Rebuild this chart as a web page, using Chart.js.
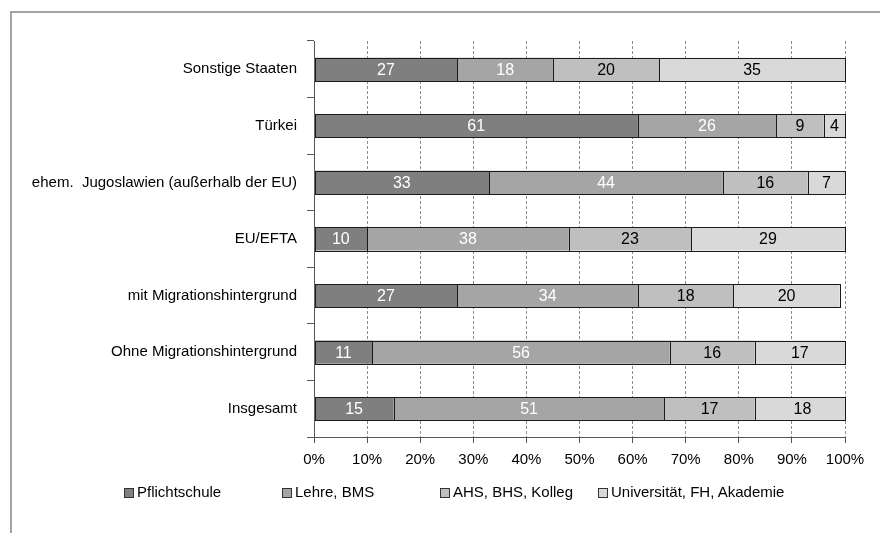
<!DOCTYPE html>
<html>
<head>
<meta charset="utf-8">
<script src="https://cdn.jsdelivr.net/npm/chart.js@4"></script>
<style>
  html, body { margin: 0; padding: 0; background: #fff; }
  #wrap { position: relative; width: 880px; height: 533px; overflow: hidden; }
  #frame { position: absolute; left: 10px; top: 11px; width: 900px; height: 600px;
           border-top: 2px solid #a3a3a3; border-left: 2px solid #a3a3a3; }
  canvas { position: absolute; left: 0; top: 0; }
  #legend { position: absolute; left: 124px; top: 482px; height: 20px;
            font: 15px "Liberation Sans", Arial, sans-serif; color: #000; white-space: nowrap; }
  #legend .item { display: inline-block; width: 158px; line-height: 20px; }
  #legend .box { display: inline-block; width: 8px; height: 8px; border: 1px solid #333;
                 margin-right: 3px; vertical-align: -1px; }
</style>
</head>
<body>
<div id="wrap">
  <div id="frame"></div>
  <canvas id="chart" width="880" height="533"></canvas>
  <div id="legend"></div>
</div>
<script>
// Schulabschluss nach Herkunft, Anteile in Prozent
const categories = [
  'Sonstige Staaten',
  'Türkei',
  'ehem.  Jugoslawien (außerhalb der EU)',
  'EU/EFTA',
  'mit Migrationshintergrund',
  'Ohne Migrationshintergrund',
  'Insgesamt'
];
const seriesNames = ['Pflichtschule', 'Lehre, BMS', 'AHS, BHS, Kolleg', 'Universität, FH, Akademie'];
const pflichtschule = [27, 61, 33, 10, 27, 11, 15];
const lehreBms      = [18, 26, 44, 38, 34, 56, 51];
const ahsBhsKolleg  = [20,  9, 16, 23, 18, 16, 17];
const universitaet  = [35,  4,  7, 29, 20, 17, 18];
const xTicks = [0, 10, 20, 30, 40, 50, 60, 70, 80, 90, 100];

const fills = ['#7f7f7f', '#a5a5a5', '#bfbfbf', '#d9d9d9'];
const labelColors = ['#ffffff', '#ffffff', '#000000', '#000000'];
const FONT = '"Liberation Sans", Arial, sans-serif';

const seriesValues = [pflichtschule, lehreBms, ahsBhsKolleg, universitaet];

const datasets = seriesValues.map((vals, i) => ({
  label: seriesNames[i],
  data: vals,
  backgroundColor: fills[i],
  borderWidth: 0,
  barPercentage: 0.41,
  categoryPercentage: 1.0
}));

// crisp outlines around each segment (kept inside the plot area), then the value centred inside it
const segmentLabels = {
  id: 'segmentLabels',
  afterDatasetsDraw(chart) {
    const ctx = chart.ctx;
    const area = chart.chartArea;
    const clampX = v => Math.min(Math.max(v, area.left), area.right);
    ctx.save();
    ctx.strokeStyle = '#1a1a1a';
    ctx.lineWidth = 1;
    chart.data.datasets.forEach((ds, di) => {
      chart.getDatasetMeta(di).data.forEach(el => {
        const { x, y, base, height } = el.getProps(['x', 'y', 'base', 'height'], true);
        const x0 = Math.round(clampX(Math.min(base, x))) + 0.5;
        const x1 = Math.round(clampX(Math.max(base, x))) + 0.5;
        const y0 = Math.round(y - height / 2) + 0.5;
        const y1 = Math.round(y + height / 2) + 0.5;
        if (x1 > x0) ctx.strokeRect(x0, y0, x1 - x0, y1 - y0);
      });
    });
    ctx.restore();

    ctx.save();
    ctx.font = '16px ' + FONT;
    ctx.textAlign = 'center';
    ctx.textBaseline = 'middle';
    chart.data.datasets.forEach((ds, di) => {
      ctx.fillStyle = labelColors[di];
      chart.getDatasetMeta(di).data.forEach((el, i) => {
        const p = el.getCenterPoint();
        ctx.fillText(String(ds.data[i]), p.x, p.y + 1);
      });
    });
    ctx.restore();
  }
};

new Chart(document.getElementById('chart'), {
  type: 'bar',
  data: { labels: categories, datasets },
  options: {
    indexAxis: 'y',
    responsive: false,
    animation: false,
    layout: { padding: { top: 41, right: 35, bottom: 0, left: 0 } },
    plugins: { legend: { display: false }, tooltip: { enabled: false } },
    scales: {
      x: {
        stacked: true,
        min: 0, max: 100,
        afterBuildTicks(scale) { scale.ticks = xTicks.map(v => ({ value: v })); },
        afterFit(scale) { scale.height = 96; },
        ticks: {
          color: '#000',
          font: { family: FONT, size: 15 },
          padding: 8,
          maxRotation: 0,
          callback: v => v + '%'
        },
        grid: {
          color: '#8c8c8c',
          lineWidth: 1,
          tickLength: 6,
          tickColor: '#555',
          tickBorderDash: []
        },
        border: { display: true, color: '#555', width: 1, dash: [3, 2] }
      },
      y: {
        stacked: true,
        afterFit(scale) { scale.width = 314; },
        ticks: {
          color: '#000',
          font: { family: FONT, size: 15 },
          padding: 10
        },
        grid: {
          offset: true,
          drawOnChartArea: false,
          tickLength: 7,
          tickColor: '#555'
        },
        border: { display: true, color: '#555', width: 1 }
      }
    }
  },
  plugins: [segmentLabels]
});

// legend row
const legend = document.getElementById('legend');
seriesNames.forEach((name, i) => {
  const item = document.createElement('span');
  item.className = 'item';
  const box = document.createElement('span');
  box.className = 'box';
  box.style.background = fills[i];
  item.appendChild(box);
  item.appendChild(document.createTextNode(name));
  legend.appendChild(item);
});
</script>
</body>
</html>
